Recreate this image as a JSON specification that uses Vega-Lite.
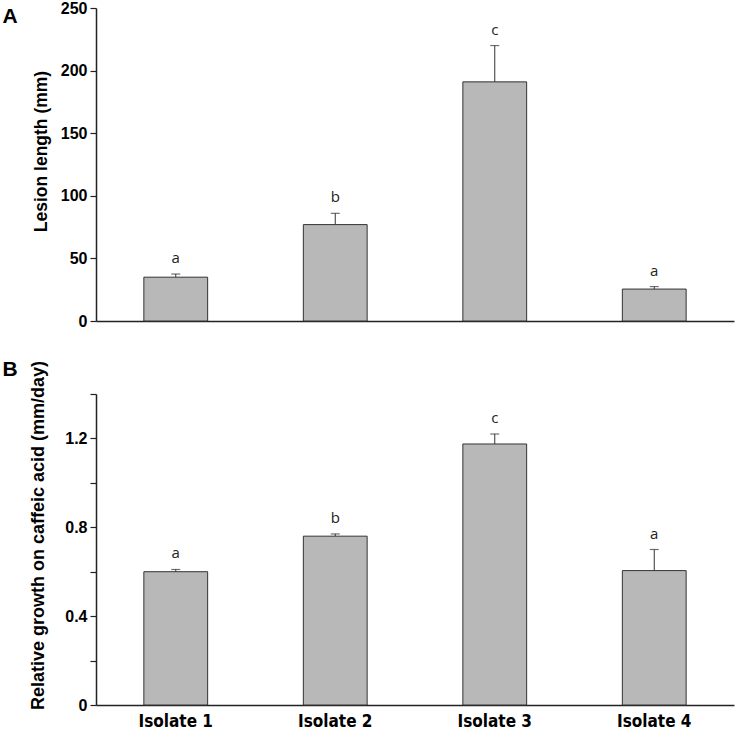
{
  "$schema": "https://vega.github.io/schema/vega-lite/v6.json",
  "background": "white",
  "padding": {"left": 2, "top": 0, "right": 4, "bottom": 0},
  "spacing": 73,
  "bounds": "flush",
  "datasets": {
    "lesion": [
      {"isolate": "Isolate 1", "mean": 35, "upper": 37.5, "letter": "a"},
      {"isolate": "Isolate 2", "mean": 77, "upper": 86, "letter": "b"},
      {"isolate": "Isolate 3", "mean": 191, "upper": 220, "letter": "c"},
      {"isolate": "Isolate 4", "mean": 25.5, "upper": 27.5, "letter": "a"}
    ],
    "growth": [
      {"isolate": "Isolate 1", "mean": 0.60, "upper": 0.61, "letter": "a"},
      {"isolate": "Isolate 2", "mean": 0.76, "upper": 0.77, "letter": "b"},
      {"isolate": "Isolate 3", "mean": 1.175, "upper": 1.22, "letter": "c"},
      {"isolate": "Isolate 4", "mean": 0.605, "upper": 0.70, "letter": "a"}
    ]
  },
  "config": {
    "view": {"stroke": null},
    "axis": {
      "grid": false,
      "domainColor": "#222",
      "domainWidth": 1.5,
      "tickColor": "#222",
      "tickWidth": 1.2,
      "labelFont": "Liberation Sans",
      "labelFontWeight": "bold",
      "labelColor": "#000",
      "titleFont": "Liberation Sans",
      "titleFontWeight": "bold",
      "titleColor": "#000"
    }
  },
  "vconcat": [
    {
      "width": 638,
      "height": 313,
      "data": {"name": "lesion"},
      "encoding": {
        "x": {
          "field": "isolate", "type": "nominal", "sort": null,
          "scale": {"paddingInner": 0.6, "paddingOuter": 0.3},
          "axis": {
            "title": "A", "labels": false, "ticks": false,
            "titleFontSize": 21, "titleX": -94, "titleY": -299,
            "titleAlign": "left", "titleBaseline": "alphabetic", "titleAnchor": "start"
          }
        }
      },
      "layer": [
        {
          "mark": {"type": "bar", "fill": "#b8b8b8", "stroke": "#333", "strokeWidth": 1},
          "encoding": {
            "y": {
              "field": "mean", "type": "quantitative",
              "scale": {"domain": [0, 250], "nice": false},
              "axis": {
                "values": [0, 50, 100, 150, 200, 250],
                "title": "Lesion length (mm)",
                "titleFontSize": 17.5,
                "labelFontSize": 16,
                "tickSize": 6,
                "labelPadding": 3,
                "titleX": -55,
                "titleY": 143,
                "titleAlign": "center",
                "titleBaseline": "middle",
                "titleAngle": -90
              }
            }
          }
        },
        {
          "mark": {"type": "rule", "color": "#333", "strokeWidth": 1},
          "encoding": {"y": {"field": "mean", "type": "quantitative"}, "y2": {"field": "upper"}}
        },
        {
          "mark": {"type": "tick", "color": "#333", "size": 9, "thickness": 1.2},
          "encoding": {"y": {"field": "upper", "type": "quantitative"}}
        },
        {
          "mark": {"type": "text", "font": "Open Sans", "fontSize": 15, "baseline": "bottom", "dy": -8, "color": "#222"},
          "encoding": {"y": {"field": "upper", "type": "quantitative"}, "text": {"field": "letter"}}
        }
      ]
    },
    {
      "width": 638,
      "height": 311,
      "data": {"name": "growth"},
      "encoding": {
        "x": {
          "field": "isolate", "type": "nominal", "sort": null,
          "scale": {"paddingInner": 0.6, "paddingOuter": 0.3},
          "axis": {
            "title": "B", "ticks": false, "labelAngle": 0,
            "labelFont": "DejaVu Sans Condensed, Liberation Sans, sans-serif", "labelFontSize": 17, "labelPadding": 8,
            "titleFontSize": 21, "titleX": -94, "titleY": -330,
            "titleAlign": "left", "titleBaseline": "alphabetic", "titleAnchor": "start"
          }
        }
      },
      "layer": [
        {
          "mark": {"type": "bar", "fill": "#b8b8b8", "stroke": "#333", "strokeWidth": 1},
          "encoding": {
            "y": {
              "field": "mean", "type": "quantitative",
              "scale": {"domain": [0, 1.4], "nice": false},
              "axis": {
                "values": [0, 0.2, 0.4, 0.6, 0.8, 1.0, 1.2, 1.4],
                "labelExpr": "datum.value == 0 ? '0' : (round(datum.value * 10) % 4 == 0 ? format(datum.value, '.1f') : '')",
                "title": "Relative growth on caffeic acid (mm/day)",
                "titleFontSize": 18,
                "labelFontSize": 16,
                "tickSize": 6,
                "labelPadding": 3,
                "titleX": -58,
                "titleY": 141,
                "titleAlign": "center",
                "titleBaseline": "middle",
                "titleAngle": -90
              }
            }
          }
        },
        {
          "mark": {"type": "rule", "color": "#333", "strokeWidth": 1},
          "encoding": {"y": {"field": "mean", "type": "quantitative"}, "y2": {"field": "upper"}}
        },
        {
          "mark": {"type": "tick", "color": "#333", "size": 9, "thickness": 1.2},
          "encoding": {"y": {"field": "upper", "type": "quantitative"}}
        },
        {
          "mark": {"type": "text", "font": "Open Sans", "fontSize": 15, "baseline": "bottom", "dy": -8, "color": "#222"},
          "encoding": {"y": {"field": "upper", "type": "quantitative"}, "text": {"field": "letter"}}
        }
      ]
    }
  ]
}
